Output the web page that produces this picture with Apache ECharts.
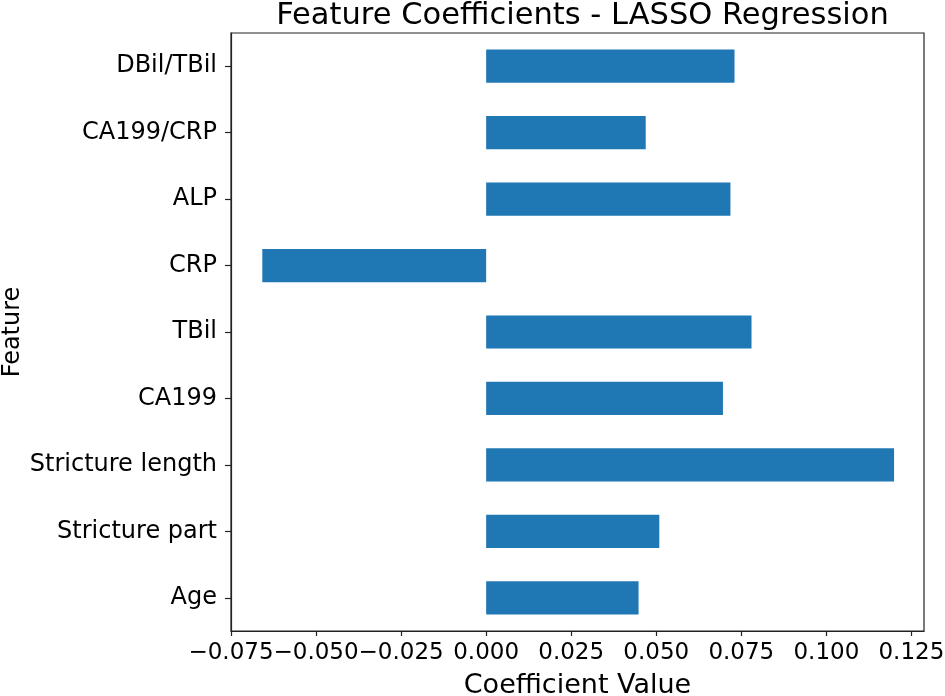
<!DOCTYPE html>
<html>
<head>
<meta charset="utf-8">
<script src="https://cdn.jsdelivr.net/npm/echarts@6/dist/echarts.min.js"></script>
<style>
  html, body { margin: 0; padding: 0; background: #fff; }
  #main { width: 945px; height: 696px; }
</style>
</head>
<body>
<div id="main"></div>
<script>
// 特征名（自下而上）
const features = ['Age', 'Stricture part', 'Stricture length', 'CA199', 'TBil', 'CRP', 'ALP', 'CA199/CRP', 'DBil/TBil'];
// LASSO 系数
const coefs = [0.0448, 0.0509, 0.1199, 0.0696, 0.0780, -0.0658, 0.0718, 0.0469, 0.0730];
// x 轴范围
const xMin = -0.075;
const xMax = 0.1287;
const xStep = 0.025;

const chart = echarts.init(document.getElementById('main'));
const font = 'DejaVu Sans';

chart.setOption({
  animation: false,
  backgroundColor: '#fff',
  title: {
    text: 'Feature Coefficients - LASSO Regression',
    left: 577.5,
    textAlign: 'center',
    top: -4,
    textStyle: { fontFamily: font, fontSize: 30.5, fontWeight: 'normal', color: '#000' }
  },
  grid: {
    left: 231, right: 21, top: 33, bottom: 65,
    show: true, borderColor: '#222', borderWidth: 1.2,
    containLabel: false, outerBoundsMode: 'none'
  },
  xAxis: {
    type: 'value',
    min: xMin,
    max: xMax,
    interval: xStep,
    name: 'Coefficient Value',
    nameLocation: 'middle',
    nameGap: 41,
    nameMoveOverlap: false,
    nameTextStyle: { fontFamily: font, fontSize: 27, color: '#000' },
    splitLine: { show: false },
    axisLine: { show: true, lineStyle: { color: '#222', width: 1.2 } },
    axisTick: { show: true, length: 5, lineStyle: { color: '#222', width: 1.2 } },
    axisLabel: {
      fontFamily: font, fontSize: 23, color: '#000', margin: 11,
      showMinLabel: true, showMaxLabel: false, hideOverlap: false,
      formatter: v => (v < 0 ? '\u2212' : '') + Math.abs(v).toFixed(3)
    }
  },
  yAxis: {
    type: 'category',
    data: features,
    name: 'Feature',
    nameLocation: 'middle',
    nameRotate: 90,
    nameGap: 206,
    nameMoveOverlap: false,
    nameTextStyle: { fontFamily: font, fontSize: 24, color: '#000' },
    axisLine: { show: true, onZero: false, lineStyle: { color: '#222', width: 1.2 } },
    axisTick: { show: true, alignWithLabel: true, length: 6, lineStyle: { color: '#222', width: 1.2 } },
    axisLabel: { fontFamily: font, fontSize: 24, color: '#000', margin: 14 }
  },
  series: [{
    type: 'bar',
    data: coefs,
    barWidth: '50%',
    itemStyle: { color: '#1f77b4' }
  }]
});
</script>
</body>
</html>
